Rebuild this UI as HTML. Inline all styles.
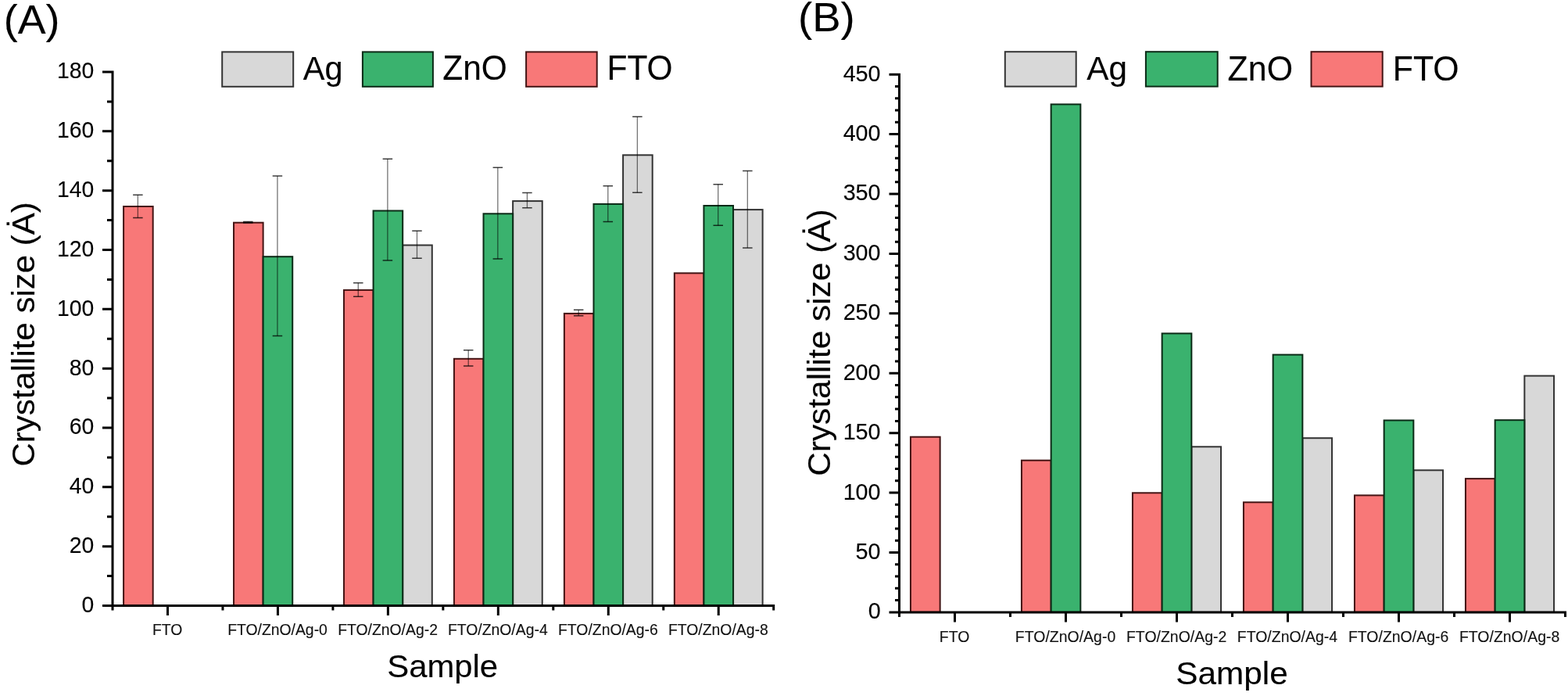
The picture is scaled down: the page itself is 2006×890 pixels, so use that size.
<!DOCTYPE html>
<html><head><meta charset="utf-8"><title>Crystallite size</title>
<style>html,body{margin:0;padding:0;background:#fff;}body{width:2006px;height:890px;overflow:hidden;}svg{display:block;}text{font-family:'Liberation Sans', Arial, sans-serif;fill:#000;}.tx{font-size:100px;stroke:#000;}.xl{fill:#111;stroke:#111;}</style></head><body>
<svg width="2006" height="890" viewBox="0 0 2006 890">
<rect width="2006" height="890" fill="#fff"/>
<rect x="158.08" y="264" width="37.6" height="510.5" fill="#F87878" stroke="#441414" stroke-width="2"/>
<rect x="299.02" y="284.7" width="37.6" height="489.8" fill="#F87878" stroke="#441414" stroke-width="2"/>
<rect x="336.62" y="328.2" width="37.6" height="446.3" fill="#3AB26E" stroke="#0b2a16" stroke-width="2"/>
<rect x="439.98" y="370.9" width="37.6" height="403.6" fill="#F87878" stroke="#441414" stroke-width="2"/>
<rect x="515.18" y="313.5" width="37.6" height="461" fill="#D8D8D8" stroke="#333333" stroke-width="2"/>
<rect x="477.58" y="269.5" width="37.6" height="505" fill="#3AB26E" stroke="#0b2a16" stroke-width="2"/>
<rect x="580.93" y="458.8" width="37.6" height="315.7" fill="#F87878" stroke="#441414" stroke-width="2"/>
<rect x="656.13" y="257.1" width="37.6" height="517.4" fill="#D8D8D8" stroke="#333333" stroke-width="2"/>
<rect x="618.53" y="273.3" width="37.6" height="501.2" fill="#3AB26E" stroke="#0b2a16" stroke-width="2"/>
<rect x="721.88" y="400.9" width="37.6" height="373.6" fill="#F87878" stroke="#441414" stroke-width="2"/>
<rect x="797.08" y="198.3" width="37.6" height="576.2" fill="#D8D8D8" stroke="#333333" stroke-width="2"/>
<rect x="759.48" y="260.9" width="37.6" height="513.6" fill="#3AB26E" stroke="#0b2a16" stroke-width="2"/>
<rect x="862.83" y="349.3" width="37.6" height="425.2" fill="#F87878" stroke="#441414" stroke-width="2"/>
<rect x="938.03" y="268.1" width="37.6" height="506.4" fill="#D8D8D8" stroke="#333333" stroke-width="2"/>
<rect x="900.43" y="263" width="37.6" height="511.5" fill="#3AB26E" stroke="#0b2a16" stroke-width="2"/>
<path d="M176.38 249.2V278.6" stroke="rgba(0,0,0,0.55)" stroke-width="1.3" fill="none"/>
<path d="M170.13 249.2H182.63M170.13 278.6H182.63" stroke="rgba(0,0,0,0.75)" stroke-width="1.5" fill="none"/>
<path d="M317.32 283.4V285" stroke="rgba(0,0,0,0.55)" stroke-width="1.3" fill="none"/>
<path d="M311.07 283.4H323.57M311.07 285H323.57" stroke="rgba(0,0,0,0.75)" stroke-width="1.5" fill="none"/>
<path d="M354.93 224.9V429.5" stroke="rgba(0,0,0,0.55)" stroke-width="1.3" fill="none"/>
<path d="M348.68 224.9H361.18M348.68 429.5H361.18" stroke="rgba(0,0,0,0.75)" stroke-width="1.5" fill="none"/>
<path d="M458.28 361.7V379.3" stroke="rgba(0,0,0,0.55)" stroke-width="1.3" fill="none"/>
<path d="M452.03 361.7H464.53M452.03 379.3H464.53" stroke="rgba(0,0,0,0.75)" stroke-width="1.5" fill="none"/>
<path d="M495.88 203.2V333" stroke="rgba(0,0,0,0.55)" stroke-width="1.3" fill="none"/>
<path d="M489.63 203.2H502.13M489.63 333H502.13" stroke="rgba(0,0,0,0.75)" stroke-width="1.5" fill="none"/>
<path d="M533.48 295.3V330.3" stroke="rgba(0,0,0,0.55)" stroke-width="1.3" fill="none"/>
<path d="M527.23 295.3H539.73M527.23 330.3H539.73" stroke="rgba(0,0,0,0.75)" stroke-width="1.5" fill="none"/>
<path d="M599.23 447.8V468" stroke="rgba(0,0,0,0.55)" stroke-width="1.3" fill="none"/>
<path d="M592.98 447.8H605.48M592.98 468H605.48" stroke="rgba(0,0,0,0.75)" stroke-width="1.5" fill="none"/>
<path d="M636.83 214.2V331.1" stroke="rgba(0,0,0,0.55)" stroke-width="1.3" fill="none"/>
<path d="M630.58 214.2H643.08M630.58 331.1H643.08" stroke="rgba(0,0,0,0.75)" stroke-width="1.5" fill="none"/>
<path d="M674.43 246.5V265.7" stroke="rgba(0,0,0,0.55)" stroke-width="1.3" fill="none"/>
<path d="M668.18 246.5H680.68M668.18 265.7H680.68" stroke="rgba(0,0,0,0.75)" stroke-width="1.5" fill="none"/>
<path d="M740.18 396.3V403.8" stroke="rgba(0,0,0,0.55)" stroke-width="1.3" fill="none"/>
<path d="M733.93 396.3H746.43M733.93 403.8H746.43" stroke="rgba(0,0,0,0.75)" stroke-width="1.5" fill="none"/>
<path d="M777.78 237.8V283.4" stroke="rgba(0,0,0,0.55)" stroke-width="1.3" fill="none"/>
<path d="M771.53 237.8H784.03M771.53 283.4H784.03" stroke="rgba(0,0,0,0.75)" stroke-width="1.5" fill="none"/>
<path d="M815.38 149.2V246.3" stroke="rgba(0,0,0,0.55)" stroke-width="1.3" fill="none"/>
<path d="M809.13 149.2H821.63M809.13 246.3H821.63" stroke="rgba(0,0,0,0.75)" stroke-width="1.5" fill="none"/>
<path d="M918.73 235.8V288.2" stroke="rgba(0,0,0,0.55)" stroke-width="1.3" fill="none"/>
<path d="M912.48 235.8H924.98M912.48 288.2H924.98" stroke="rgba(0,0,0,0.75)" stroke-width="1.5" fill="none"/>
<path d="M956.33 218.4V317" stroke="rgba(0,0,0,0.55)" stroke-width="1.3" fill="none"/>
<path d="M950.08 218.4H962.58M950.08 317H962.58" stroke="rgba(0,0,0,0.75)" stroke-width="1.5" fill="none"/>
<path d="M144 90.5V774.5M131 774.5H991.2M131 774.5H144M137 736.58H144M131 698.67H144M137 660.75H144M131 622.83H144M137 584.92H144M131 547H144M137 509.08H144M131 471.17H144M137 433.25H144M131 395.33H144M137 357.42H144M131 319.5H144M137 281.58H144M131 243.67H144M137 205.75H144M131 167.83H144M137 129.92H144M131 92H144M144 774.5V780.5M284.95 774.5V780.5M425.9 774.5V780.5M566.85 774.5V780.5M707.8 774.5V780.5M848.75 774.5V780.5M989.7 774.5V780.5M214.48 774.5V787M355.43 774.5V787M496.38 774.5V787M637.33 774.5V787M778.28 774.5V787M919.23 774.5V787" stroke="#000" stroke-width="3" fill="none"/>
<text transform="translate(104.53 782.92) scale(0.28300 0.29200)" class="tx" stroke-width="0.417">0</text>
<text transform="translate(88.68 707.09) scale(0.28300 0.29200)" class="tx" stroke-width="0.417">20</text>
<text transform="translate(88.68 631.26) scale(0.28300 0.29200)" class="tx" stroke-width="0.417">40</text>
<text transform="translate(88.68 555.42) scale(0.28300 0.29200)" class="tx" stroke-width="0.417">60</text>
<text transform="translate(88.68 479.59) scale(0.28300 0.29200)" class="tx" stroke-width="0.417">80</text>
<text transform="translate(72.97 403.76) scale(0.28300 0.29200)" class="tx" stroke-width="0.417">100</text>
<text transform="translate(72.97 327.92) scale(0.28300 0.29200)" class="tx" stroke-width="0.417">120</text>
<text transform="translate(72.97 252.09) scale(0.28300 0.29200)" class="tx" stroke-width="0.417">140</text>
<text transform="translate(72.97 176.26) scale(0.28300 0.29200)" class="tx" stroke-width="0.417">160</text>
<text transform="translate(72.97 100.42) scale(0.28300 0.29200)" class="tx" stroke-width="0.417">180</text>
<text transform="translate(194.95 811.7) scale(0.19380 0.19700)" class="tx xl" stroke-width="0.614">FTO</text>
<text transform="translate(291.13 811.7) scale(0.19380 0.19700)" class="tx xl" stroke-width="0.614">FTO/ZnO/Ag-0</text>
<text transform="translate(432.18 811.7) scale(0.19380 0.19700)" class="tx xl" stroke-width="0.614">FTO/ZnO/Ag-2</text>
<text transform="translate(572.93 811.7) scale(0.19380 0.19700)" class="tx xl" stroke-width="0.614">FTO/ZnO/Ag-4</text>
<text transform="translate(714.03 811.7) scale(0.19380 0.19700)" class="tx xl" stroke-width="0.614">FTO/ZnO/Ag-6</text>
<text transform="translate(854.98 811.7) scale(0.19380 0.19700)" class="tx xl" stroke-width="0.614">FTO/ZnO/Ag-8</text>
<rect x="1164.95" y="558.7" width="37.7" height="224.2" fill="#F87878" stroke="#441414" stroke-width="2"/>
<rect x="1306.95" y="588.7" width="37.7" height="194.2" fill="#F87878" stroke="#441414" stroke-width="2"/>
<rect x="1344.65" y="133.4" width="37.7" height="649.5" fill="#3AB26E" stroke="#0b2a16" stroke-width="2"/>
<rect x="1448.95" y="630.3" width="37.7" height="152.6" fill="#F87878" stroke="#441414" stroke-width="2"/>
<rect x="1524.35" y="571.3" width="37.7" height="211.6" fill="#D8D8D8" stroke="#333333" stroke-width="2"/>
<rect x="1486.65" y="426.4" width="37.7" height="356.5" fill="#3AB26E" stroke="#0b2a16" stroke-width="2"/>
<rect x="1590.95" y="642.3" width="37.7" height="140.6" fill="#F87878" stroke="#441414" stroke-width="2"/>
<rect x="1666.35" y="560.2" width="37.7" height="222.7" fill="#D8D8D8" stroke="#333333" stroke-width="2"/>
<rect x="1628.65" y="453.6" width="37.7" height="329.3" fill="#3AB26E" stroke="#0b2a16" stroke-width="2"/>
<rect x="1732.95" y="633.4" width="37.7" height="149.5" fill="#F87878" stroke="#441414" stroke-width="2"/>
<rect x="1808.35" y="601.3" width="37.7" height="181.6" fill="#D8D8D8" stroke="#333333" stroke-width="2"/>
<rect x="1770.65" y="537.5" width="37.7" height="245.4" fill="#3AB26E" stroke="#0b2a16" stroke-width="2"/>
<rect x="1874.95" y="612.1" width="37.7" height="170.8" fill="#F87878" stroke="#441414" stroke-width="2"/>
<rect x="1950.35" y="480.6" width="37.7" height="302.3" fill="#D8D8D8" stroke="#333333" stroke-width="2"/>
<rect x="1912.65" y="537.2" width="37.7" height="245.7" fill="#3AB26E" stroke="#0b2a16" stroke-width="2"/>
<path d="M1150.5 93.7V782.9M1137.5 782.9H2004M1137.5 782.9H1150.5M1145 767.62H1150.5M1145 752.34H1150.5M1145 737.05H1150.5M1145 721.77H1150.5M1137.5 706.49H1150.5M1145 691.21H1150.5M1145 675.92H1150.5M1145 660.64H1150.5M1145 645.36H1150.5M1137.5 630.08H1150.5M1145 614.8H1150.5M1145 599.51H1150.5M1145 584.23H1150.5M1145 568.95H1150.5M1137.5 553.67H1150.5M1145 538.38H1150.5M1145 523.1H1150.5M1145 507.82H1150.5M1145 492.54H1150.5M1137.5 477.26H1150.5M1145 461.97H1150.5M1145 446.69H1150.5M1145 431.41H1150.5M1145 416.13H1150.5M1137.5 400.84H1150.5M1145 385.56H1150.5M1145 370.28H1150.5M1145 355H1150.5M1145 339.72H1150.5M1137.5 324.43H1150.5M1145 309.15H1150.5M1145 293.87H1150.5M1145 278.59H1150.5M1145 263.3H1150.5M1137.5 248.02H1150.5M1145 232.74H1150.5M1145 217.46H1150.5M1145 202.18H1150.5M1145 186.89H1150.5M1137.5 171.61H1150.5M1145 156.33H1150.5M1145 141.05H1150.5M1145 125.76H1150.5M1145 110.48H1150.5M1137.5 95.2H1150.5M1150.5 782.9V788.9M1292.5 782.9V788.9M1434.5 782.9V788.9M1576.5 782.9V788.9M1718.5 782.9V788.9M1860.5 782.9V788.9M2002.5 782.9V788.9M1221.5 782.9V795.4M1363.5 782.9V795.4M1505.5 782.9V795.4M1647.5 782.9V795.4M1789.5 782.9V795.4M1931.5 782.9V795.4" stroke="#000" stroke-width="3" fill="none"/>
<text transform="translate(1110.69 791.34) scale(0.28750 0.29100)" class="tx" stroke-width="0.415">0</text>
<text transform="translate(1094.59 714.93) scale(0.28750 0.29100)" class="tx" stroke-width="0.415">50</text>
<text transform="translate(1078.64 638.52) scale(0.28750 0.29100)" class="tx" stroke-width="0.415">100</text>
<text transform="translate(1078.64 562.11) scale(0.28750 0.29100)" class="tx" stroke-width="0.415">150</text>
<text transform="translate(1078.64 485.7) scale(0.28750 0.29100)" class="tx" stroke-width="0.415">200</text>
<text transform="translate(1078.64 409.28) scale(0.28750 0.29100)" class="tx" stroke-width="0.415">250</text>
<text transform="translate(1078.64 332.87) scale(0.28750 0.29100)" class="tx" stroke-width="0.415">300</text>
<text transform="translate(1078.64 256.46) scale(0.28750 0.29100)" class="tx" stroke-width="0.415">350</text>
<text transform="translate(1078.64 180.05) scale(0.28750 0.29100)" class="tx" stroke-width="0.415">400</text>
<text transform="translate(1078.64 103.64) scale(0.28750 0.29100)" class="tx" stroke-width="0.415">450</text>
<text transform="translate(1201.86 820.6) scale(0.19490 0.19700)" class="tx xl" stroke-width="0.612">FTO</text>
<text transform="translate(1298.84 820.6) scale(0.19490 0.19700)" class="tx xl" stroke-width="0.612">FTO/ZnO/Ag-0</text>
<text transform="translate(1440.94 820.6) scale(0.19490 0.19700)" class="tx xl" stroke-width="0.612">FTO/ZnO/Ag-2</text>
<text transform="translate(1582.74 820.6) scale(0.19490 0.19700)" class="tx xl" stroke-width="0.612">FTO/ZnO/Ag-4</text>
<text transform="translate(1724.89 820.6) scale(0.19490 0.19700)" class="tx xl" stroke-width="0.612">FTO/ZnO/Ag-6</text>
<text transform="translate(1866.89 820.6) scale(0.19490 0.19700)" class="tx xl" stroke-width="0.612">FTO/ZnO/Ag-8</text>
<rect x="284.2" y="66.4" width="91" height="44.4" fill="#D8D8D8" stroke="#333333" stroke-width="2"/>
<text transform="translate(387.79 101.54) scale(0.41472 0.42682)" class="tx" stroke-width="0.285">Ag</text>
<rect x="463.9" y="66.4" width="90" height="44.4" fill="#3AB26E" stroke="#0b2a16" stroke-width="2"/>
<text transform="translate(566.33 101.86) scale(0.42413 0.43944)" class="tx" stroke-width="0.278">ZnO</text>
<rect x="673.1" y="66.4" width="90.6" height="44.4" fill="#F87878" stroke="#441414" stroke-width="2"/>
<text transform="translate(776.5 101.86) scale(0.42480 0.43944)" class="tx" stroke-width="0.278">FTO</text>
<rect x="1285.8" y="66.2" width="90.9" height="44.4" fill="#D8D8D8" stroke="#333333" stroke-width="2"/>
<text transform="translate(1390.29 101.92) scale(0.42251 0.43240)" class="tx" stroke-width="0.281">Ag</text>
<rect x="1465.9" y="66.2" width="91.8" height="44.4" fill="#3AB26E" stroke="#0b2a16" stroke-width="2"/>
<text transform="translate(1570.61 102.56) scale(0.42895 0.44225)" class="tx" stroke-width="0.275">ZnO</text>
<rect x="1677.5" y="66.2" width="91.2" height="44.4" fill="#F87878" stroke="#441414" stroke-width="2"/>
<text transform="translate(1781.78 102.56) scale(0.42803 0.44225)" class="tx" stroke-width="0.276">FTO</text>
<text transform="translate(4.82 43.04) scale(0.53760 0.52193)" class="tx" stroke-width="0.227">(A)</text>
<text transform="translate(1021.03 39.92) scale(0.54545 0.52299)" class="tx" stroke-width="0.225">(B)</text>
<text transform="translate(495.22 866.14) scale(0.41879 0.39786)" class="tx" stroke-width="0.294">Sample</text>
<text transform="translate(1504.19 875.08) scale(0.42333 0.41070)" class="tx" stroke-width="0.288">Sample</text>
<text transform="translate(43.5 596.5) rotate(-90) scale(0.41989 0.40000)" class="tx" stroke-width="0.293">Crystallite size (&#550;)</text>
<text transform="translate(1061.5 608.82) rotate(-90) scale(0.42391 0.40000)" class="tx" stroke-width="0.291">Crystallite size (&#550;)</text>
</svg></body></html>
